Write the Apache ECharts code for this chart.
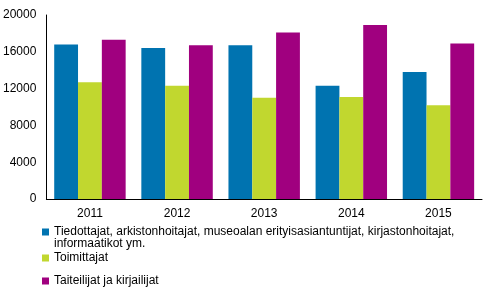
<!DOCTYPE html>
<html>
<head>
<meta charset="utf-8">
<script src="https://cdn.jsdelivr.net/npm/echarts@6/dist/echarts.min.js"></script>
<style>
html,body{margin:0;padding:0;background:#fff;}
#chart{width:491px;height:302px;}
</style>
</head>
<body>
<div id="chart"></div>
<script>
var categories = ['2011', '2012', '2013', '2014', '2015'];
var seriesNames = [
  'Tiedottajat, arkistonhoitajat, museoalan erityisasiantuntijat, kirjastonhoitajat, informaatikot ym.',
  'Toimittajat',
  'Taiteilijat ja kirjailijat'
];
var tiedottajat = [16800, 16400, 16700, 12300, 13800];
var toimittajat = [12700, 12300, 11000, 11100, 10200];
var taiteilijat = [17300, 16700, 18100, 18900, 16900];
var colors = ['#0073b0', '#c1d72f', '#a0007f'];
var yTicks = [0, 4000, 8000, 12000, 16000, 20000];

var chart = echarts.init(document.getElementById('chart'), null, {renderer: 'canvas'});
var font = 'Arial, "Liberation Sans", sans-serif';

function legendFor(i, top) {
  return {
    data: [seriesNames[i]],
    left: 42,
    top: top,
    padding: 0,
    orient: 'vertical',
    icon: 'rect',
    itemWidth: 7,
    itemHeight: 7,
    selectedMode: false,
    textStyle: {
      fontFamily: font, fontSize: 12, color: '#000',
      rich: { a: { fontFamily: font, fontSize: 12, color: '#000', lineHeight: 12, padding: [12, 0, 0, 0] } }
    },
    formatter: function (name) {
      if (i === 0) {
        return '{a|Tiedottajat, arkistonhoitajat, museoalan erityisasiantuntijat, kirjastonhoitajat,\ninformaatikot ym.}';
      }
      return name;
    }
  };
}

var dataArr = [tiedottajat, toimittajat, taiteilijat];
var option = {
  animation: false,
  backgroundColor: '#fff',
  grid: { left: 45, right: 9, top: 15, bottom: 103, containLabel: false },
  legend: [legendFor(0, 214), legendFor(1, 252), legendFor(2, 275)],
  xAxis: {
    type: 'category',
    data: categories,
    axisLine: { show: true, lineStyle: { color: '#000', width: 1 } },
    axisTick: { show: false },
    axisLabel: { color: '#000', fontFamily: font, fontSize: 12, margin: 9 }
  },
  yAxis: {
    type: 'value',
    min: yTicks[0],
    max: yTicks[yTicks.length - 1],
    interval: 4000,
    axisLine: { show: true, lineStyle: { color: '#000', width: 1 } },
    axisTick: { show: false },
    splitLine: { show: false },
    axisLabel: { color: '#000', fontFamily: font, fontSize: 12, margin: 10,
      formatter: function (v) { return String(v); } }
  },
  series: seriesNames.map(function (n, i) {
    return {
      name: n,
      type: 'bar',
      data: dataArr[i],
      barGap: '0%',
      barCategoryGap: '18%',
      itemStyle: { color: colors[i] }
    };
  })
};
chart.setOption(option);
</script>
</body>
</html>
